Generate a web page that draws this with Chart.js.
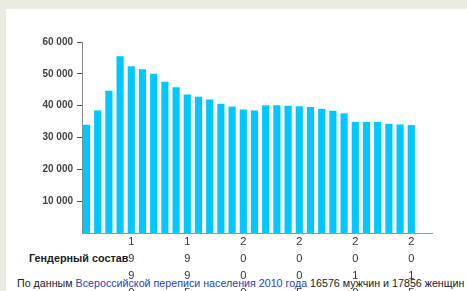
<!DOCTYPE html>
<html>
<head>
<meta charset="utf-8">
<script src="https://cdn.jsdelivr.net/npm/chart.js@4/dist/chart.umd.min.js"></script>
<style>
    html, body { margin: 0; padding: 0; }
    body { width: 467px; height: 291px; background: #ecebe2; overflow: hidden; position: relative; font-family: "Liberation Sans", Arial, sans-serif; }
    .panel { position: absolute; left: 6px; top: 9px; right: 0; bottom: 0; background: #fff; }
    .gender { position: absolute; left: 29px; top: 252px; font-size: 10.8px; font-weight: bold; color: #222; white-space: nowrap; }
    .source { position: absolute; left: 17px; top: 277px; font-size: 10.7px; color: #222; white-space: nowrap; }
    .source a { color: #2a45b5; text-decoration: none; }
    #chartBox { position: absolute; left: 0; top: 0; width: 467px; height: 291px; }
</style>
</head>
<body>
<div class="panel"></div>
<div class="gender">Гендерный состав</div>
<div class="source">По данным <a>Всероссийской переписи населения 2010 года</a> 16576 мужчин и 17856 женщин</div>
<div id="chartBox"><canvas id="popChart"></canvas></div>

<script>
// годы и численность населения (по столбцам)
const years = [1986, 1987, 1988, 1989, 1990, 1991, 1992, 1993, 1994, 1995,
               1996, 1997, 1998, 1999, 2000, 2001, 2002, 2003, 2004, 2005,
               2006, 2007, 2008, 2009, 2010, 2011, 2012, 2013, 2014, 2015];
const population = [33900, 38400, 44600, 55400, 52300, 51300, 49900, 47400, 45700, 43400,
                    42700, 41800, 40500, 39600, 38700, 38400, 40000, 40000, 39900, 39700,
                    39500, 38900, 38300, 37500, 34800, 34800, 34800, 34200, 34000, 33800];
// подписи оси X
const tickYears = [1990, 1995, 2000, 2005, 2010, 2015];
const yTicks = [10000, 20000, 30000, 40000, 50000, 60000];

function fmtThousands(v) {
    return String(v).replace(/\B(?=(\d{3})+(?!\d))/g, ' ');
}

const ctx = document.getElementById('popChart').getContext('2d');
new Chart(ctx, {
    type: 'bar',
    data: {
        datasets: [{
            data: years.map((y, i) => ({ x: y, y: population[i] })),
            backgroundColor: '#00c8ff',
            borderWidth: 0,
            barThickness: 6.5
        }]
    },
    options: {
        responsive: true,
        maintainAspectRatio: false,
        animation: false,
        layout: { padding: { top: 42, right: 35, left: 0, bottom: 0 } },
        plugins: { legend: { display: false }, tooltip: { enabled: false } },
        scales: {
            x: {
                type: 'linear',
                offset: false,
                min: 1985.6,
                max: 2016.85,
                afterFit: (scale) => { scale.height = 58; },
                afterBuildTicks: (scale) => { scale.ticks = tickYears.map(v => ({ value: v })); },
                grid: { display: true, drawOnChartArea: false, drawTicks: false },
                border: { color: '#999', width: 1 },
                ticks: {
                    padding: 0,
                    maxRotation: 0,
                    autoSkip: false,
                    color: '#333',
                    font: { family: 'Liberation Sans', size: 11, lineHeight: '17px' },
                    callback: (v) => String(v).split('')
                }
            },
            y: {
                min: 0,
                max: 60000,
                z: 1,
                afterFit: (scale) => { scale.width = 82; },
                afterBuildTicks: (scale) => { scale.ticks = yTicks.map(v => ({ value: v })); },
                grid: { drawOnChartArea: false, drawTicks: true, tickLength: 5, color: '#555' },
                border: { color: '#888', width: 1 },
                ticks: {
                    padding: 4,
                    color: '#444',
                    font: { family: 'Liberation Sans', size: 10, weight: 'bold' },
                    callback: (v) => fmtThousands(v)
                }
            }
        }
    }
});
</script>
</body>
</html>
